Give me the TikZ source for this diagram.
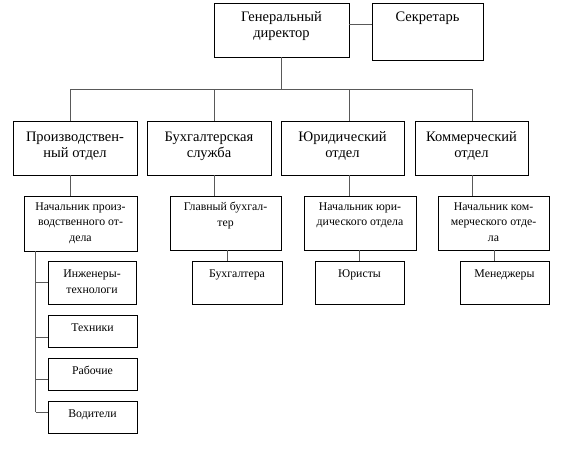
\documentclass[tikz,border=0pt]{standalone}
\usepackage{fontspec}
\setmainfont{Liberation Serif}
\usetikzlibrary{calc}

\begin{document}
\begin{tikzpicture}[x=1pt, y=-1pt,
  unit/.style={draw, line width=0.8pt, inner sep=0pt},
  big/.style={anchor=north, align=center, inner sep=0pt, font=\fontsize{14.5}{16}\selectfont},
  small/.style={anchor=north, align=center, inner sep=0pt, font=\fontsize{11.8}{15.5}\selectfont},
  link/.style={draw=black!65, line width=0.9pt}]
  \useasboundingbox (0,0) rectangle (561,450);

  % top
  \node[unit, minimum width=135pt, minimum height=54pt,
        label={[big, yshift=-9pt]north:Генеральный\\директор}] (gd) at (281.5,30) {};
  \node[unit, minimum width=111pt, minimum height=57pt,
        label={[big, yshift=-9pt]north:Секретарь}] (sek) at (427.5,31.5) {};
  \draw[link] ([yshift=6pt]gd.east) -- ([yshift=6pt]gd.east -| sek.west);

  % departments
  \node[unit, minimum width=124pt, minimum height=54pt,
        label={[big, yshift=-11pt]north:Производствен-\\ный отдел}] (d1) at (75,148) {};
  \node[unit, minimum width=124pt, minimum height=54pt,
        label={[big, yshift=-11pt]north:Бухгалтерская\\служба}] (d2) at (209,148) {};
  \node[unit, minimum width=123pt, minimum height=54pt,
        label={[big, yshift=-11pt]north:Юридический\\отдел}] (d3) at (342.5,148) {};
  \node[unit, minimum width=113pt, minimum height=54pt,
        label={[big, yshift=-11pt]north:Коммерческий\\отдел}] (d4) at (471.5,148) {};

  \coordinate (b1) at (70,89);
  \coordinate (b2) at (214,89);
  \coordinate (b3) at (349,89);
  \coordinate (b4) at (472,89);
  \draw[link] (gd.south) -- (gd.south |- b1);
  \draw[link] (b1) -- (b4);
  \draw[link] (b1) -- (b1 |- d1.north);
  \draw[link] (b2) -- (b2 |- d2.north);
  \draw[link] (b3) -- (b3 |- d3.north);
  \draw[link] (b4) -- (b4 |- d4.north);

  % heads
  \node[unit, minimum width=113pt, minimum height=55pt,
        label={[small, yshift=-6.5pt]north:Начальник произ-\\водственного от-\\дела}] (n1) at (80.5,223.5) {};
  \node[unit, minimum width=111pt, minimum height=54pt,
        label={[small, yshift=-6.5pt]north:Главный бухгал-\\тер}] (n2) at (225.5,223) {};
  \node[unit, minimum width=112pt, minimum height=54pt,
        label={[small, yshift=-6.5pt]north:Начальник юри-\\дического отдела}] (n3) at (360,223) {};
  \node[unit, minimum width=111pt, minimum height=54pt,
        label={[small, yshift=-6.5pt]north:Начальник ком-\\мерческого отде-\\ла}] (n4) at (493.5,223) {};

  \draw[link] (b1 |- d1.south) -- (b1 |- n1.north);
  \draw[link] (b2 |- d2.south) -- (b2 |- n2.north);
  \draw[link] (b3 |- d3.south) -- (b3 |- n3.north);
  \draw[link] (b4 |- d4.south) -- (b4 |- n4.north);

  % staff
  \node[unit, minimum width=88pt, minimum height=43pt,
        label={[small, yshift=-9pt]north:Инженеры-\\технологи}] (ing) at (92,282.5) {};
  \node[unit, minimum width=89pt, minimum height=32pt,
        label={[small, yshift=-8.5pt]north:Техники}] (teh) at (92.5,331) {};
  \node[unit, minimum width=89pt, minimum height=32pt,
        label={[small, yshift=-8.5pt]north:Рабочие}] (rab) at (92.5,374) {};
  \node[unit, minimum width=89pt, minimum height=32pt,
        label={[small, yshift=-8.5pt]north:Водители}] (vod) at (92.5,417) {};

  \node[unit, minimum width=90pt, minimum height=43pt,
        label={[small, yshift=-9pt]north:Бухгалтера}] (buh) at (237,282.5) {};
  \node[unit, minimum width=89pt, minimum height=43pt,
        label={[small, yshift=-9pt]north:Юристы}] (jur) at (359.5,282.5) {};
  \node[unit, minimum width=89pt, minimum height=43pt,
        label={[small, yshift=-9pt]north:Менеджеры}] (men) at (504.5,282.5) {};

  \coordinate (stem) at ([xshift=12pt]n1.south west);
  \draw[link] (stem) -- ([yshift=5pt]stem |- vod.west);
  \draw[link] (stem |- ing.west) -- (ing.west);
  \draw[link] ([yshift=-6pt]stem |- teh.west) -- ([yshift=-6pt]teh.west);
  \draw[link] ([yshift=-5pt]stem |- rab.west) -- ([yshift=-5pt]rab.west);
  \draw[link] ([yshift=5pt]stem |- vod.west) -- ([yshift=5pt]vod.west);

  \coordinate (c2) at (227,250);
  \coordinate (c4) at (494,250);
  \draw[link] (c2 |- n2.south) -- (c2 |- buh.north);
  \draw[link] (jur.north |- n3.south) -- (jur.north);
  \draw[link] (c4 |- n4.south) -- (c4 |- men.north);
\end{tikzpicture}
\end{document}
